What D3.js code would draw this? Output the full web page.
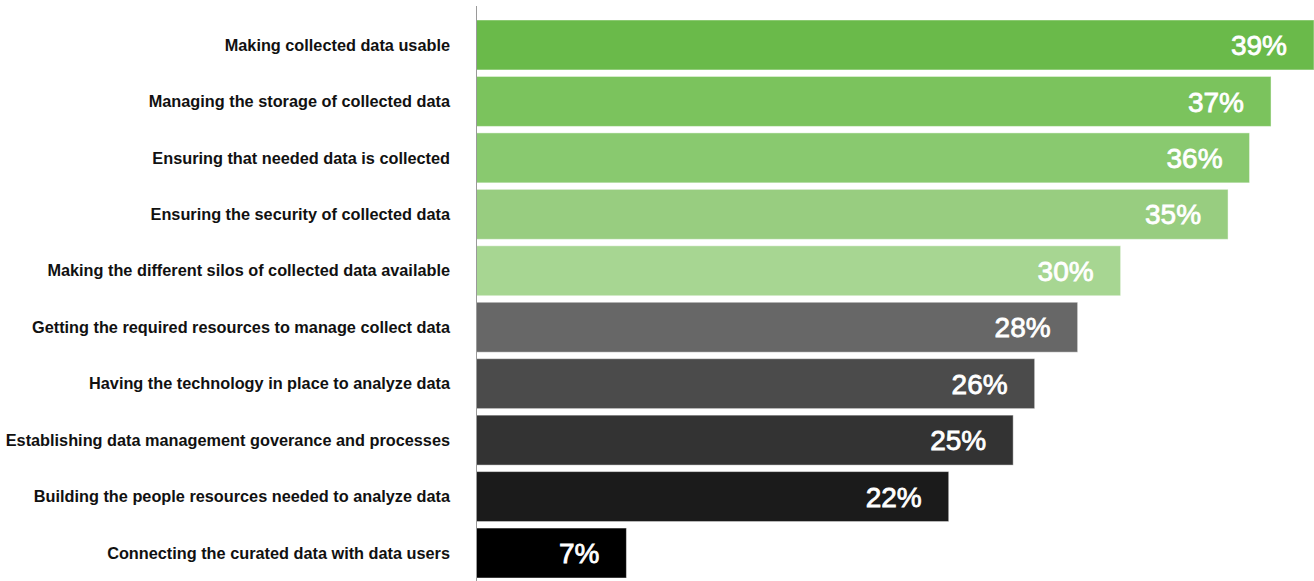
<!DOCTYPE html>
<html>
<head>
<meta charset="utf-8">
<script src="https://cdn.jsdelivr.net/npm/d3@7"></script>
<style>
    body { margin: 0; background: #fff; }
    svg { display: block; }
</style>
</head>
<body>
<svg id="chart" width="1314" height="581"></svg>
<script>
// Dades del gràfic
var categories = [
    "Making collected data usable",
    "Managing the storage of collected data",
    "Ensuring that needed data is collected",
    "Ensuring the security of collected data",
    "Making the different silos of collected data available",
    "Getting the required resources to manage collect data",
    "Having the technology in place to analyze data",
    "Establishing data management goverance and processes",
    "Building the people resources needed to analyze data",
    "Connecting the curated data with data users"
];
var values = [39, 37, 36, 35, 30, 28, 26, 25, 22, 7];
var barColors = ["#6aba4a", "#7bc35d", "#89c96f", "#98cd80", "#a7d692",
                 "#676767", "#4b4b4b", "#333333", "#1b1b1b", "#000000"];

var width = 1314, height = 581;
var margin = { top: 20, right: 0, bottom: 3, left: 476 };

var svg = d3.select("#chart");

var x = d3.scaleLinear()
    .domain([0, 39])
    .range([margin.left, width - margin.right]);

var y = d3.scaleBand()
    .domain(categories)
    .range([margin.top, height - margin.bottom])
    .paddingInner(0.115)
    .paddingOuter(0);

// Barres
svg.append("g").selectAll("rect").data(values).enter().append("rect")
    .attr("x", x(0))
    .attr("y", function(d, i) { return y(categories[i]); })
    .attr("width", function(d) { return x(d) - x(0); })
    .attr("height", y.bandwidth())
    .attr("fill", function(d, i) { return barColors[i]; })
    .attr("stroke", "rgba(255,255,255,0.45)")
    .attr("stroke-width", 1);

// Eix vertical
svg.append("line")
    .attr("x1", x(0) + 0.5).attr("x2", x(0) + 0.5)
    .attr("y1", 6).attr("y2", height)
    .attr("stroke", "#9a9a9a")
    .attr("stroke-width", 1);

// Etiquetes de categoria
svg.append("g").selectAll("text").data(categories).enter().append("text")
    .attr("x", 450)
    .attr("y", function(d) { return y(d) + y.bandwidth() / 2; })
    .attr("dy", "0.35em")
    .attr("text-anchor", "end")
    .style("font-family", "'Liberation Sans', Arial, sans-serif")
    .style("font-weight", "bold")
    .style("font-size", "16.3px")
    .style("fill", "#111")
    .text(function(d) { return d; });

// Valors
svg.append("g").selectAll("text").data(values).enter().append("text")
    .attr("x", function(d) { return x(d) - 27; })
    .attr("y", function(d, i) { return y(categories[i]) + y.bandwidth() / 2; })
    .attr("dy", "0.36em")
    .attr("text-anchor", "end")
    .style("font-family", "'Liberation Sans', Arial, sans-serif")
    .style("font-size", "28px")
    .style("fill", "#fff")
    .style("stroke", "#fff")
    .style("stroke-width", "0.8px")
    .text(function(d) { return d + "%"; });
</script>
</body>
</html>
